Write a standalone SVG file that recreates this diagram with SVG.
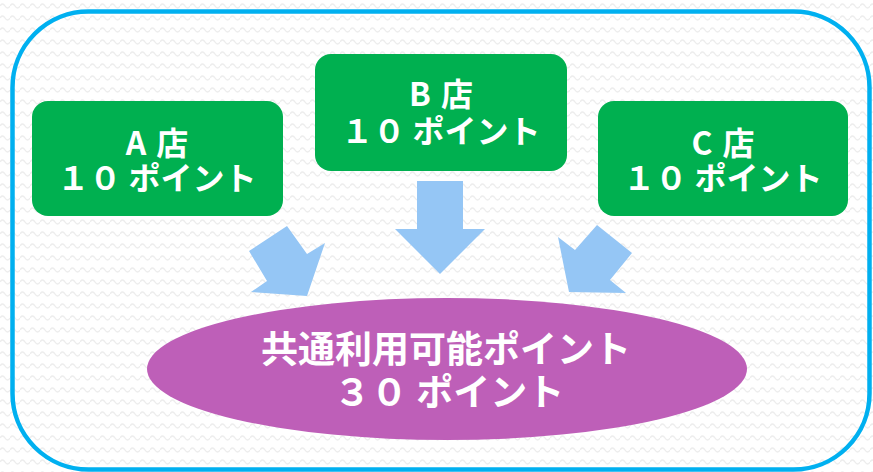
<svg xmlns="http://www.w3.org/2000/svg" width="873" height="472" viewBox="0 0 873 472">
<style>
.box{fill:#00B050;}
.t{font-family:"Noto Sans CJK JP","Noto Sans",sans-serif;font-weight:bold;fill:#ffffff;text-anchor:middle;}
.s{font-size:32px;}
.l{font-size:37px;}
.arr{fill:#95C6F5;}
</style>
<defs>
<pattern id="wave" width="10" height="12" patternUnits="userSpaceOnUse">
<path d="M0,6 Q2.5,2 5,6 T10,6" fill="none" stroke="#ededed" stroke-width="1.4"/>
</pattern>
</defs>
<rect x="0" y="0" width="873" height="472" fill="#ffffff"/>
<rect x="0" y="0" width="873" height="472" fill="url(#wave)"/>
<rect id="frame" x="12.5" y="11.5" width="857" height="458" rx="76" ry="76" fill="none" stroke="#00B0F0" stroke-width="4.5"/>
<g id="connectors">
<polygon class="arr" points="287,226 249,251 267,281 251,292 307,296 325,243 307,254"/>
<polygon class="arr" points="417,181 463,181 463,229 485,229 440,274 395,229 417,229"/>
<polygon class="arr" points="597,225 632,253 610,280 626,293 569,292 558,237 575,250"/>
</g>
<g id="nodeA">
<rect class="box" x="32" y="101" width="251" height="115" rx="16"/>
<text class="t s"><tspan x="157" y="155">A<tspan dx="10">店</tspan></tspan><tspan x="157" y="190">１０ ポイント</tspan></text>
</g>
<g id="nodeB">
<rect class="box" x="315" y="54" width="252" height="117" rx="16"/>
<text class="t s"><tspan x="441" y="106">B<tspan dx="10">店</tspan></tspan><tspan x="441" y="143">１０ ポイント</tspan></text>
</g>
<g id="nodeC">
<rect class="box" x="598" y="101" width="250" height="115" rx="16"/>
<text class="t s"><tspan x="723" y="155">C<tspan dx="10">店</tspan></tspan><tspan x="723" y="190">１０ ポイント</tspan></text>
</g>
<g id="total">
<ellipse cx="447" cy="369" rx="300" ry="71" fill="#BE5FB8"/>
<text class="t l"><tspan x="446" y="363">共通利用可能ポイント</tspan><tspan x="449" y="406">３０ ポイント</tspan></text>
</g>
</svg>
